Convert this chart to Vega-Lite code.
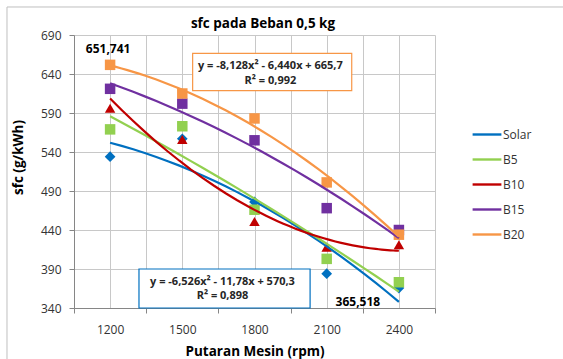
{
  "$schema": "https://vega.github.io/schema/vega-lite/v6.json",
  "width": 361,
  "height": 273,
  "autosize": {"type": "none"},
  "padding": {"left": 74, "top": 35, "right": 128, "bottom": 51},
  "background": "white",
  "config": {
    "locale": {"number": {"decimal": ",", "thousands": ".", "grouping": [3], "currency": ["", ""]}},
    "view": {"stroke": null},
    "font": "Open Sans"
  },
  "title": {
    "text": "sfc pada Beban 0,5 kg",
    "font": "Open Sans",
    "fontSize": 13.5,
    "fontWeight": "bold",
    "color": "#000000",
    "anchor": "middle",
    "frame": "group",
    "dx": 8.5,
    "offset": -35.5,
    "baseline": "alphabetic"
  },
  "datasets": {
    "points": [
      {"series": "Solar", "rpm": 1200, "sfc": 534},
      {"series": "Solar", "rpm": 1500, "sfc": 557},
      {"series": "Solar", "rpm": 1800, "sfc": 476},
      {"series": "Solar", "rpm": 2100, "sfc": 384},
      {"series": "Solar", "rpm": 2400, "sfc": 365.518},
      {"series": "B5", "rpm": 1200, "sfc": 569},
      {"series": "B5", "rpm": 1500, "sfc": 573},
      {"series": "B5", "rpm": 1800, "sfc": 466},
      {"series": "B5", "rpm": 2100, "sfc": 403},
      {"series": "B5", "rpm": 2400, "sfc": 373},
      {"series": "B10", "rpm": 1200, "sfc": 596},
      {"series": "B10", "rpm": 1500, "sfc": 556},
      {"series": "B10", "rpm": 1800, "sfc": 451},
      {"series": "B10", "rpm": 2100, "sfc": 418},
      {"series": "B10", "rpm": 2400, "sfc": 421},
      {"series": "B15", "rpm": 1200, "sfc": 621},
      {"series": "B15", "rpm": 1500, "sfc": 602},
      {"series": "B15", "rpm": 1800, "sfc": 555},
      {"series": "B15", "rpm": 2100, "sfc": 468},
      {"series": "B15", "rpm": 2400, "sfc": 440},
      {"series": "B20", "rpm": 1200, "sfc": 651.741},
      {"series": "B20", "rpm": 1500, "sfc": 615},
      {"series": "B20", "rpm": 1800, "sfc": 583},
      {"series": "B20", "rpm": 2100, "sfc": 501},
      {"series": "B20", "rpm": 2400, "sfc": 434}
    ],
    "frame": [
      {"rpm": 771.6, "rpm2": 3300, "sfc": 725.9, "sfc2": 200}
    ],
    "boxes": [
      {"box": "B20", "rpm": 1543, "rpm2": 2204, "sfc": 618.6, "sfc2": 666.5},
      {"box": "Solar", "rpm": 1320, "rpm2": 2031, "sfc": 340, "sfc2": 390}
    ],
    "eqs": [
      {"rpm": 1866, "sfc": 650.6, "text": "y = -8,128x² - 6,440x + 665,7"},
      {"rpm": 1866, "sfc": 631.0, "text": "R² = 0,992"},
      {"rpm": 1667, "sfc": 373.0, "text": "y = -6,526x² - 11,78x + 570,3"},
      {"rpm": 1667, "sfc": 354.8, "text": "R² = 0,898"}
    ]
  },
  "encoding": {
    "x": {
      "field": "rpm",
      "type": "quantitative",
      "scale": {"domain": [1050, 2550], "nice": false, "zero": false},
      "axis": {
        "values": [1050, 1200, 1350, 1500, 1650, 1800, 1950, 2100, 2250, 2400, 2550],
        "format": "d",
        "labelExpr": "datum.value % 300 === 0 ? datum.label : ''",
        "labelOverlap": false,
        "labelFlush": false,
        "labelBound": false,
        "tickOpacity": {"condition": {"test": "datum.value % 300 === 0", "value": 0}, "value": 1},
        "tickSize": 5,
        "tickColor": "#868686",
        "domainColor": "#868686",
        "grid": true,
        "gridColor": "#C8C8C8",
        "labelPadding": 11,
        "labelFont": "Open Sans",
        "labelFontSize": 12,
        "labelColor": "#333333",
        "title": "Putaran Mesin (rpm)",
        "titleFont": "Open Sans",
        "titleFontSize": 13.5,
        "titleFontWeight": "bold",
        "titleColor": "#000000",
        "titleY": 47,
        "titleBaseline": "alphabetic"
      }
    },
    "y": {
      "field": "sfc",
      "type": "quantitative",
      "scale": {"domain": [340, 690], "nice": false, "zero": false},
      "axis": {
        "values": [340, 390, 440, 490, 540, 590, 640, 690],
        "format": "d",
        "labelOverlap": false,
        "tickSize": 5,
        "tickColor": "#868686",
        "domainColor": "#868686",
        "grid": true,
        "gridColor": "#C8C8C8",
        "labelPadding": 8,
        "labelFont": "Open Sans",
        "labelFontSize": 12,
        "labelColor": "#333333",
        "title": "sfc (g/kWh)",
        "titleFont": "Open Sans",
        "titleFontSize": 13.5,
        "titleFontWeight": "bold",
        "titleColor": "#000000",
        "titleAngle": 270,
        "titleAlign": "center",
        "titleBaseline": "middle",
        "titleX": -56,
        "titleY": 122
      }
    }
  },
  "layer": [
    {
      "data": {"name": "frame"},
      "mark": {"type": "rect", "fill": "transparent", "stroke": "#BFBFBF", "strokeWidth": 1},
      "encoding": {
        "x2": {"field": "rpm2"},
        "y2": {"field": "sfc2"}
      }
    },
    {
      "data": {"name": "points"},
      "transform": [{"filter": "datum.series === 'Solar'"}],
      "mark": {"type": "point", "shape": "diamond", "filled": true, "opacity": 1, "size": 115, "strokeWidth": 0},
      "encoding": {
        "color": {
          "field": "series",
          "type": "nominal",
          "scale": {"domain": ["Solar", "B5", "B10", "B15", "B20"], "range": ["#0070C0", "#92D050", "#C00000", "#7030A0", "#F79646"]},
          "legend": {
            "title": null,
            "orient": "none",
            "legendX": 401,
            "legendY": 87.5,
            "symbolType": "M-1.2,-0.1H1.2V0.1H-1.2Z",
            "symbolSize": 576,
            "symbolStrokeWidth": 0,
            "symbolOpacity": 1,
            "labelFont": "Open Sans",
            "labelFontSize": 12,
            "labelColor": "#333333",
            "labelOffset": 4,
            "rowPadding": 7,
            "padding": 0
          }
        }
      }
    },
    {
      "data": {"name": "points"},
      "transform": [{"filter": "datum.series === 'B5'"}],
      "mark": {"type": "point", "shape": "square", "filled": true, "opacity": 1, "size": 110, "strokeWidth": 0},
      "encoding": {"color": {"field": "series", "type": "nominal"}}
    },
    {
      "data": {"name": "points"},
      "transform": [{"filter": "datum.series === 'B10'"}],
      "mark": {"type": "point", "shape": "triangle-up", "filled": true, "opacity": 1, "size": 110, "strokeWidth": 0},
      "encoding": {"color": {"field": "series", "type": "nominal"}}
    },
    {
      "data": {"name": "points"},
      "transform": [{"filter": "datum.series === 'B15'"}],
      "mark": {"type": "point", "shape": "square", "filled": true, "opacity": 1, "size": 110, "strokeWidth": 0},
      "encoding": {"color": {"field": "series", "type": "nominal"}}
    },
    {
      "data": {"name": "points"},
      "transform": [{"filter": "datum.series === 'B20'"}],
      "mark": {"type": "point", "shape": "square", "filled": true, "opacity": 1, "size": 110, "strokeWidth": 0},
      "encoding": {"color": {"field": "series", "type": "nominal"}}
    },
    {
      "data": {"name": "points"},
      "transform": [
        {"regression": "sfc", "on": "rpm", "groupby": ["series"], "method": "poly", "order": 2, "extent": [1200, 2400]}
      ],
      "mark": {"type": "line", "strokeWidth": 2.2},
      "encoding": {"color": {"field": "series", "type": "nominal"}}
    },
    {
      "data": {"name": "boxes"},
      "mark": {"type": "rect", "fill": "white", "strokeWidth": 1.2},
      "encoding": {
        "x2": {"field": "rpm2"},
        "y2": {"field": "sfc2"},
        "stroke": {
          "field": "box",
          "type": "nominal",
          "scale": {"domain": ["Solar", "B20"], "range": ["#0070C0", "#F79646"]},
          "legend": null
        }
      }
    },
    {
      "data": {"name": "eqs"},
      "mark": {"type": "text", "font": "Open Sans", "fontSize": 11, "fontWeight": "bold", "color": "#262626", "align": "center", "baseline": "middle"},
      "encoding": {
        "text": {"field": "text", "type": "nominal"}
      }
    },
    {
      "data": {"name": "points"},
      "transform": [{"filter": "datum.series === 'B20' && datum.rpm === 1200"}],
      "mark": {"type": "text", "font": "Open Sans", "fontSize": 12, "fontWeight": "bold", "color": "#000000", "align": "center", "baseline": "middle", "dx": -2, "dy": -15.5},
      "encoding": {
        "text": {"field": "sfc", "type": "quantitative", "format": ".3f"}
      }
    },
    {
      "data": {"name": "points"},
      "transform": [{"filter": "datum.series === 'Solar' && datum.rpm === 2400"}],
      "mark": {"type": "text", "font": "Open Sans", "fontSize": 12, "fontWeight": "bold", "color": "#000000", "align": "center", "baseline": "middle", "dx": -41, "dy": 14},
      "encoding": {
        "text": {"field": "sfc", "type": "quantitative", "format": ".3f"}
      }
    }
  ]
}
